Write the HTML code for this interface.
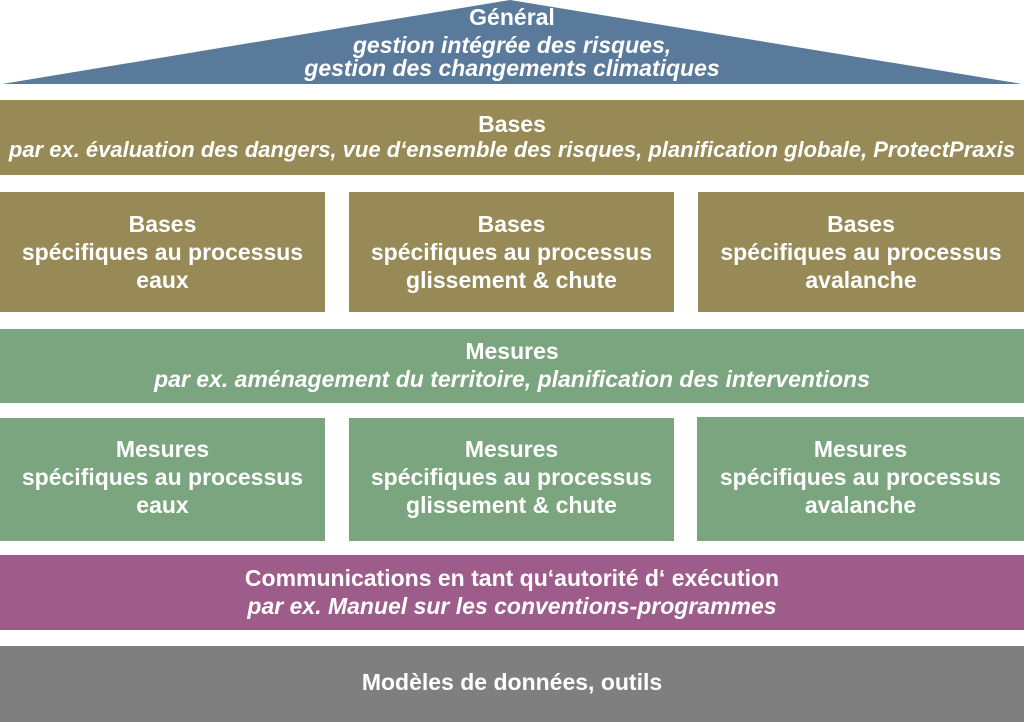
<!DOCTYPE html>
<html><head><meta charset="utf-8"><style>
html,body{margin:0;padding:0;background:#fff;width:1024px;height:722px;overflow:hidden;position:relative;font-family:"Liberation Sans",Arial,sans-serif;color:#fff;font-weight:bold}
.b{position:absolute}
.t{position:absolute;left:0;right:0;text-align:center;font-size:23px;line-height:28px;white-space:nowrap}
i{font-style:italic}
.ol{background:#978a57}.gr{background:#7ba57e}.pu{background:#9e5c8a}.gy{background:#7f7f7f}
</style></head><body>
<svg class="b" style="left:0;top:0" width="1024" height="90"><polygon points="2,84 510,0 1022,84" fill="#5a7a9c"/></svg>
<div class="t" style="top:3px">Général</div>
<div class="t" style="top:31px"><i>gestion intégrée des risques,</i></div>
<div class="t" style="top:54px"><i>gestion des changements climatiques</i></div>

<div class="b ol" style="left:0;top:100px;width:1024px;height:75px"></div>
<div class="t" style="top:110px">Bases</div>
<div class="t" style="top:136px;font-size:22px"><i>par ex. évaluation des dangers, vue d‘ensemble des risques, planification globale, ProtectPraxis</i></div>

<div class="b ol" style="left:0;top:192px;width:325px;height:120px"><div class="t" style="top:18px">Bases<br>spécifiques au processus<br>eaux</div></div>
<div class="b ol" style="left:349px;top:192px;width:325px;height:120px"><div class="t" style="top:18px">Bases<br>spécifiques au processus<br>glissement &amp; chute</div></div>
<div class="b ol" style="left:698px;top:192px;width:326px;height:120px"><div class="t" style="top:18px">Bases<br>spécifiques au processus<br>avalanche</div></div>

<div class="b gr" style="left:0;top:329px;width:1024px;height:74px"></div>
<div class="t" style="top:337px">Mesures</div>
<div class="t" style="top:365px"><i>par ex. aménagement du territoire, planification des interventions</i></div>

<div class="b gr" style="left:0;top:418px;width:325px;height:123px"><div class="t" style="top:17px">Mesures<br>spécifiques au processus<br>eaux</div></div>
<div class="b gr" style="left:349px;top:418px;width:325px;height:123px"><div class="t" style="top:17px">Mesures<br>spécifiques au processus<br>glissement &amp; chute</div></div>
<div class="b gr" style="left:697px;top:417px;width:327px;height:124px"><div class="t" style="top:18px">Mesures<br>spécifiques au processus<br>avalanche</div></div>

<div class="b pu" style="left:0;top:555px;width:1024px;height:75px"></div>
<div class="t" style="top:564px">Communications en tant qu‘autorité d‘ exécution</div>
<div class="t" style="top:592px"><i>par ex. Manuel sur les conventions-programmes</i></div>

<div class="b gy" style="left:0;top:646px;width:1024px;height:76px"></div>
<div class="t" style="top:668px">Modèles de données, outils</div>
</body></html>
